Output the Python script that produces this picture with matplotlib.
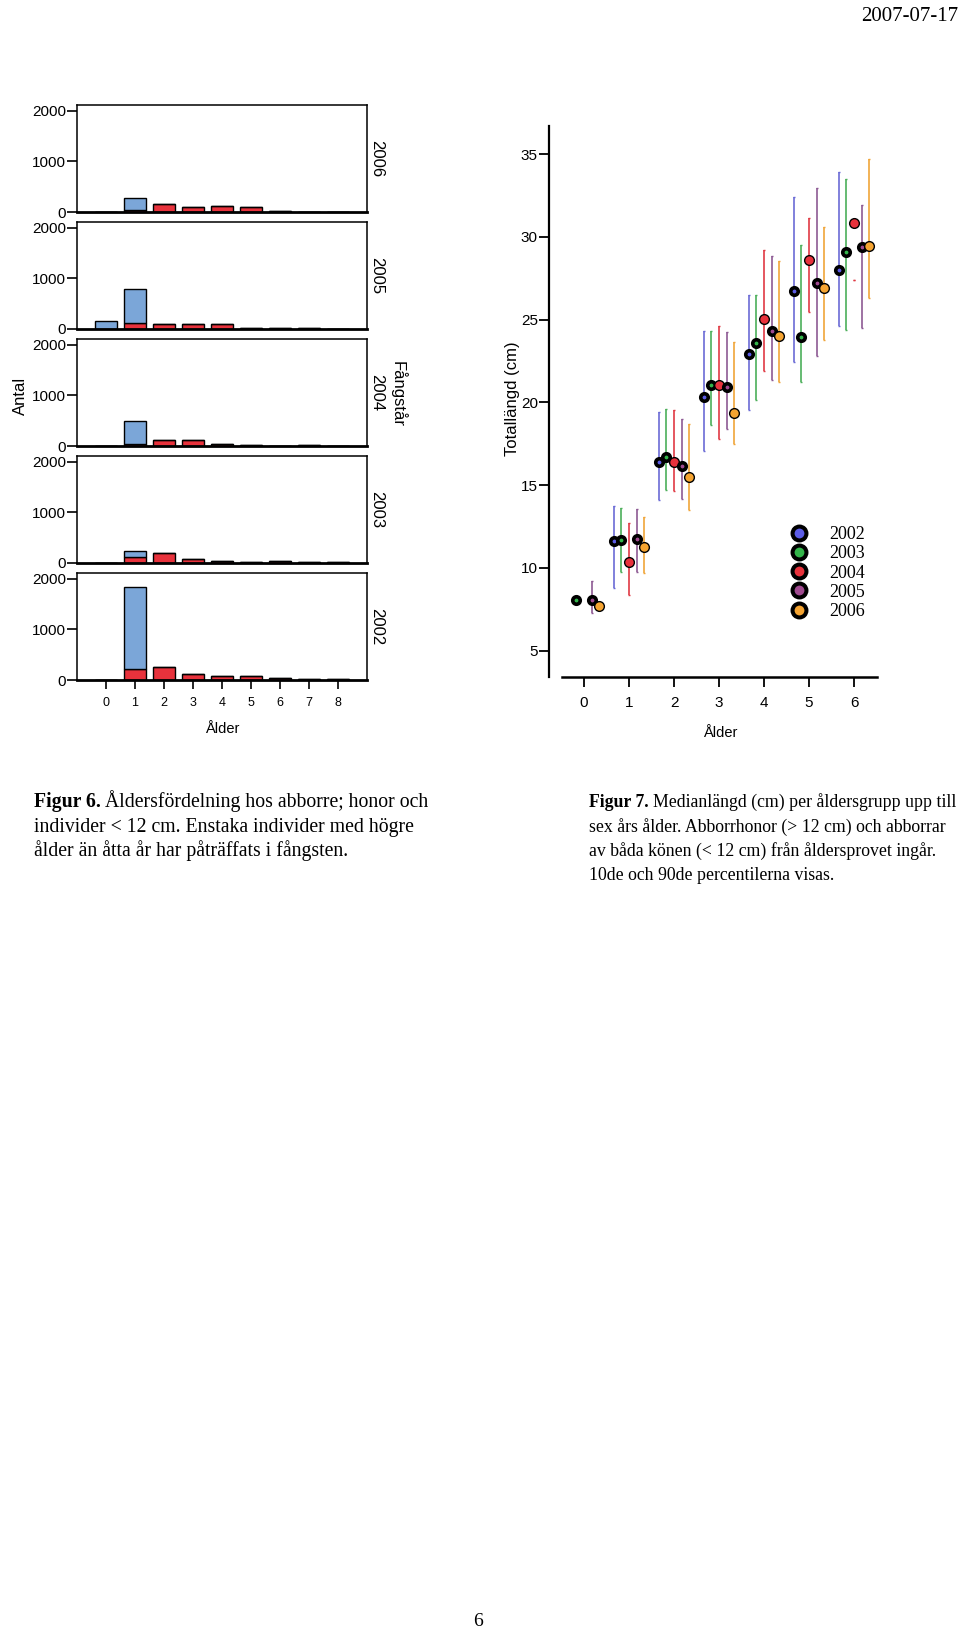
import numpy as np
import matplotlib
matplotlib.use("Agg")
from matplotlib import pyplot as plt
from matplotlib.lines import Line2D

plt.rcParams['font.family'] = ['Liberation Sans', 'DejaVu Sans']

W, H = 960, 1630

# ---- Figur 6: antal per ålder och fångstår ----
ages_hist = [0, 1, 2, 3, 4, 5, 6, 7, 8]
panel_years = [2006, 2005, 2004, 2003, 2002]

honor_2006 = [0, 46, 150, 92, 112, 98, 20, 7, 3]
small_2006 = [8, 237, 0, 0, 0, 0, 0, 0, 0]
honor_2005 = [0, 125, 92, 105, 92, 25, 18, 12, 5]
small_2005 = [151, 658, 0, 0, 0, 0, 0, 0, 0]
honor_2004 = [0, 40, 118, 112, 40, 20, 0, 25, 0]
small_2004 = [0, 453, 0, 0, 0, 0, 0, 0, 0]
honor_2003 = [0, 125, 190, 72, 40, 26, 30, 18, 15]
small_2003 = [0, 105, 0, 0, 0, 0, 0, 0, 0]
honor_2002 = [0, 217, 250, 118, 72, 72, 33, 25, 18]
small_2002 = [0, 1625, 0, 0, 0, 0, 0, 0, 0]

honor = [honor_2006, honor_2005, honor_2004, honor_2003, honor_2002]
small = [small_2006, small_2005, small_2004, small_2003, small_2002]

# ---- Figur 7: medianlängd med 10- och 90-percentiler ----
ages_len = [0, 1, 2, 3, 4, 5, 6]
years = [2002, 2003, 2004, 2005, 2006]
nan = np.nan
med_2002 = [nan, 11.63, 16.40, 20.31, 22.91, 26.75, 28.00]
med_2003 = [8.08, 11.69, 16.70, 21.02, 23.61, 23.95, 29.10]
med_2004 = [nan, 10.34, 16.42, 21.06, 25.06, 28.60, 30.86]
med_2005 = [8.04, 11.71, 16.16, 20.92, 24.32, 27.21, 29.41]
med_2006 = [7.70, 11.28, 15.49, 19.33, 24.00, 26.91, 29.45]
p10_2002 = [nan, 8.75, 14.08, 17.04, 19.53, 22.44, 24.60]
p10_2003 = [nan, 9.75, 14.69, 18.62, 20.17, 21.24, 24.36]
p10_2004 = [nan, 8.38, 14.63, 17.77, 21.90, 25.44, 27.41]
p10_2005 = [7.28, 9.73, 14.14, 18.37, 21.34, 22.79, 24.50]
p10_2006 = [nan, 9.71, 13.48, 17.51, 21.24, 23.79, 26.31]
p90_2002 = [nan, 13.72, 19.42, 24.34, 26.47, 32.42, 33.95]
p90_2003 = [nan, 13.62, 19.62, 24.32, 26.49, 29.49, 33.47]
p90_2004 = [nan, 12.73, 19.56, 24.62, 29.23, 31.16, 27.41]
p90_2005 = [9.19, 13.54, 19.02, 24.24, 28.82, 32.95, 31.94]
p90_2006 = [nan, 13.06, 18.66, 23.63, 28.52, 30.59, 34.68]

meds = [med_2002, med_2003, med_2004, med_2005, med_2006]
p10s = [p10_2002, p10_2003, p10_2004, p10_2005, p10_2006]
p90s = [p90_2002, p90_2003, p90_2004, p90_2005, p90_2006]

blue_bar = '#7ba6d8'
red_bar = '#e8323c'
dot_colors = ['#5c5ce6', '#33b54a', '#e8323c', '#a04a90', '#f5a431']
line_colors = ['#6b6bd6', '#4caf5a', '#e03a44', '#8e5a94', '#f0a53a']
thick_edge = [True, True, False, True, False]
offsets = [-0.33, -0.17, 0.0, 0.17, 0.33]


def px_axes(fig, left, top, width, height):
    return fig.add_axes([left / W, 1 - (top + height) / H, width / W, height / H])


fig = plt.figure(figsize=(W / 100, H / 100), dpi=100)

# left panels
for i, yr in enumerate(panel_years):
    bottom_px = 212 + 117 * i
    ax = px_axes(fig, 77, bottom_px - 107, 290, 107)
    ax.bar(ages_hist, honor[i], width=0.77, color=red_bar, edgecolor='black', linewidth=1.0, zorder=2)
    ax.bar(ages_hist, small[i], bottom=honor[i], width=0.77, color=blue_bar,
           edgecolor='black', linewidth=1.0, zorder=2)
    ax.set_xlim(-1, 9)
    ax.set_ylim(0, 2110)
    ax.set_yticks([0, 1000, 2000])
    ax.tick_params(axis='y', length=7, width=1.2, pad=1, labelsize=11)
    for s in ['left', 'top', 'right']:
        ax.spines[s].set_linewidth(1.1)
    ax.spines['bottom'].set_linewidth(2.0)
    ax.spines['bottom'].set_zorder(3)
    if i == len(panel_years) - 1:
        ax.set_xticks(ages_hist)
        ax.tick_params(axis='x', length=6.5, width=1.2, pad=6, labelsize=9)
    else:
        ax.set_xticks([])
    ax.text(1.034, 0.5, str(yr), rotation=-90, transform=ax.transAxes,
            ha='center', va='center', fontsize=12)

fig.text(20 / W, 1 - 396 / H, 'Antal', rotation=90, ha='center', va='center', fontsize=12)
fig.text(398 / W, 1 - 394 / H, 'Fångstår', rotation=-90, ha='center', va='center', fontsize=12)
fig.text(222 / W, 1 - 729 / H, 'Ålder', ha='center', va='center', fontsize=10.5)

# right chart
ax2 = px_axes(fig, 549, 126, 328, 551)
for j, yr in enumerate(years):
    x = np.array(ages_len) + offsets[j]
    ax2.vlines(x, p10s[j], p90s[j], color=line_colors[j], linewidth=1.2, zorder=2)
    ax2.plot(x, p10s[j], linestyle='none', marker='_', ms=1.8, mew=1.0, color=line_colors[j], zorder=2)
    ax2.plot(x, p90s[j], linestyle='none', marker='_', ms=1.8, mew=1.0, color=line_colors[j], zorder=2)
    if thick_edge[j]:
        ax2.plot(x, meds[j], linestyle='none', marker='o', ms=5.4, mew=2.6,
                 mfc=dot_colors[j], mec='black', zorder=3 + j)
    else:
        ax2.plot(x, meds[j], linestyle='none', marker='o', ms=7.0, mew=1.0,
                 mfc=dot_colors[j], mec='black', zorder=3 + j)

ax2.set_xlim(-0.78, 6.51)
ax2.set_ylim(3.4, 36.7)
ax2.set_yticks([5, 10, 15, 20, 25, 30, 35])
ax2.set_xticks(ages_len)
ax2.spines['top'].set_visible(False)
ax2.spines['right'].set_visible(False)
ax2.spines['left'].set_linewidth(1.6)
ax2.spines['bottom'].set_linewidth(1.8)
ax2.spines['bottom'].set_bounds(-0.5, 6.5)
ax2.tick_params(axis='y', length=7, width=1.3, pad=1, labelsize=11)
ax2.tick_params(axis='x', length=7, width=1.3, pad=7, labelsize=11)

fig.text(512 / W, 1 - 399 / H, 'Totallängd (cm)', rotation=90, ha='center', va='center', fontsize=12)
fig.text(720 / W, 1 - 733 / H, 'Ålder', ha='center', va='center', fontsize=10.5)

handles = [Line2D([], [], linestyle='none', marker='o', ms=10, mew=2.9,
                  mfc=dot_colors[j], mec='black') for j in range(len(years))]
ax2.legend(handles, [str(y) for y in years], loc='center left',
           bbox_to_anchor=(790 / W, 1 - 573 / H), bbox_transform=fig.transFigure,
           frameon=False, borderpad=0, borderaxespad=0, handlelength=1.0,
           handletextpad=1.2, labelspacing=0.12,
           prop={'family': 'Liberation Serif', 'size': 13})

# page texts
serif = 'Liberation Serif'
fig.text(958 / W, 1 - 21 / H, '2007-07-17', ha='right', va='baseline', family=serif, fontsize=15)
fig.text(478 / W, 1 - 1626 / H, '6', ha='center', va='baseline', family=serif, fontsize=14)

cap6 = ['Åldersfördelning hos abborre; honor och',
        'individer < 12 cm. Enstaka individer med högre',
        'ålder än åtta år har påträffats i fångsten.']
cap7 = ['Medianlängd (cm) per åldersgrupp upp till',
        'sex års ålder. Abborrhonor (> 12 cm) och abborrar',
        'av båda könen (< 12 cm) från åldersprovet ingår.',
        '10de och 90de percentilerna visas.']

renderer = fig.canvas.get_renderer()


def caption(x0, y0, head, lines, size):
    items = []
    t = fig.text(x0 / W, 1 - y0 / H, head, ha='left', va='baseline',
                 family=serif, fontsize=size, weight='bold')
    items.append(t)
    bb = t.get_window_extent(renderer)
    for k, line in enumerate(lines):
        if k == 0:
            items.append(fig.text((bb.x1 + 4) / W, 1 - y0 / H, line, ha='left', va='baseline',
                                  family=serif, fontsize=size))
        else:
            items.append(fig.text(x0 / W, 1 - (y0 + 24.5 * k) / H, line, ha='left',
                                  va='baseline', family=serif, fontsize=size))
    return items


# shrink caption size until the right caption fits on the page
cap_size = 13.2
while True:
    c7 = caption(589, 807, 'Figur 7.', cap7, cap_size)
    right = max(t.get_window_extent(renderer).x1 for t in c7)
    if right <= 956 or cap_size < 10:
        break
    for t in c7:
        t.remove()
    cap_size -= 0.1

caption(34, 807, 'Figur 6.', cap6, 14.2)

fig.savefig('out.png', dpi=100)
